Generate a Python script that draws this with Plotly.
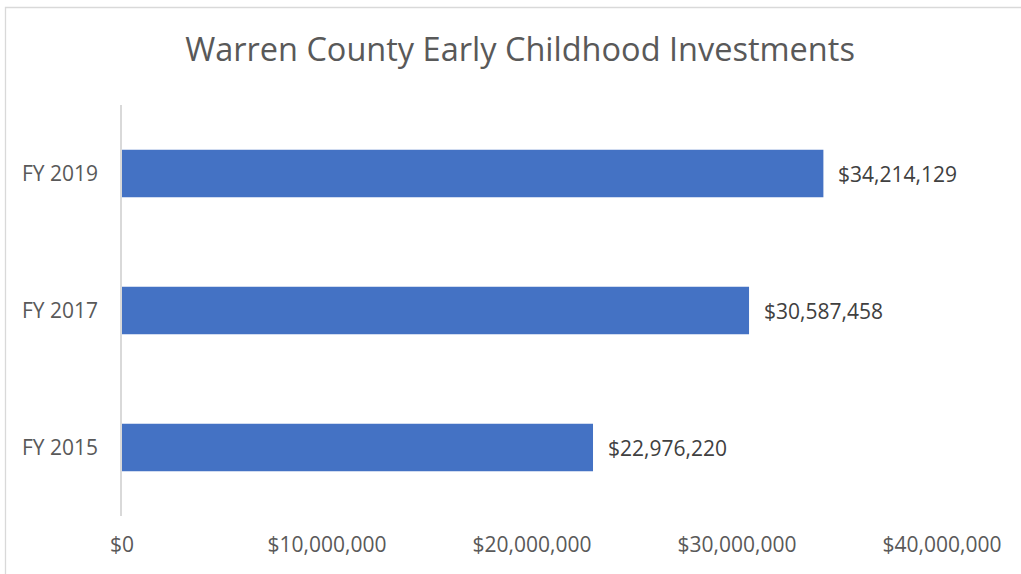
import plotly.graph_objects as go

# Early childhood investment totals by fiscal year
years = ["FY 2015", "FY 2017", "FY 2019"]
amounts = [22976220, 30587458, 34214129]
tick_values = [0, 10000000, 20000000, 30000000, 40000000]
tick_labels = ["$0", "$10,000,000", "$20,000,000", "$30,000,000", "$40,000,000"]

FONT = "Open Sans, Lato, sans-serif"
W, H = 1021, 574
ML, MR, MT, MB = 122, 79, 105, 58
pw, ph = W - ML - MR, H - MT - MB

fig = go.Figure(
    go.Bar(
        y=years,
        x=amounts,
        orientation="h",
        marker=dict(color="#4472C4", line=dict(width=0)),
        width=0.345,
        hoverinfo="skip",
    )
)

# Value labels to the right of each bar
for yr, amt in zip(years, amounts):
    fig.add_annotation(
        x=amt, y=yr, xref="x", yref="y",
        text=f"${amt:,}", showarrow=False,
        xanchor="left", xshift=13,
        font=dict(family=FONT, size=21, color="#404040"),
    )

# Light chart border (top and left edges)
px_x = lambda p: (p - ML) / pw
px_y = lambda p: 1 - (p - MT) / ph
fig.add_shape(type="rect", xref="paper", yref="paper",
              x0=px_x(5.5), x1=px_x(1030), y0=px_y(7.5), y1=px_y(600),
              line=dict(color="#D9D9D9", width=1.3), fillcolor="rgba(0,0,0,0)", layer="below")

fig.update_layout(
    width=W, height=H,
    margin=dict(l=ML, r=MR, t=MT, b=MB, autoexpand=False),
    paper_bgcolor="white", plot_bgcolor="white",
    title=dict(
        text="Warren County Early Childhood Investments",
        x=520 / W, xanchor="center", xref="container",
        y=1 - 50 / H, yanchor="middle",
        font=dict(family=FONT, size=32.5, color="#595959"),
    ),
    xaxis=dict(
        range=[0, 40000000], tickvals=tick_values, ticktext=tick_labels,
        showgrid=False, zeroline=False, showline=False, ticks="",
        ticklabelstandoff=14,
        tickfont=dict(family=FONT, size=21, color="#595959"),
        fixedrange=True,
    ),
    yaxis=dict(
        categoryorder="array", categoryarray=years,
        showgrid=False, zeroline=False, showline=True,
        linecolor="#D9D9D9", linewidth=1.5, ticks="",
        ticklabelstandoff=18,
        tickfont=dict(family=FONT, size=21, color="#595959"),
        fixedrange=True,
    ),
    showlegend=False,
    bargap=0.65,
)

fig.write_html("out.html", config=dict(displayModeBar=False))
